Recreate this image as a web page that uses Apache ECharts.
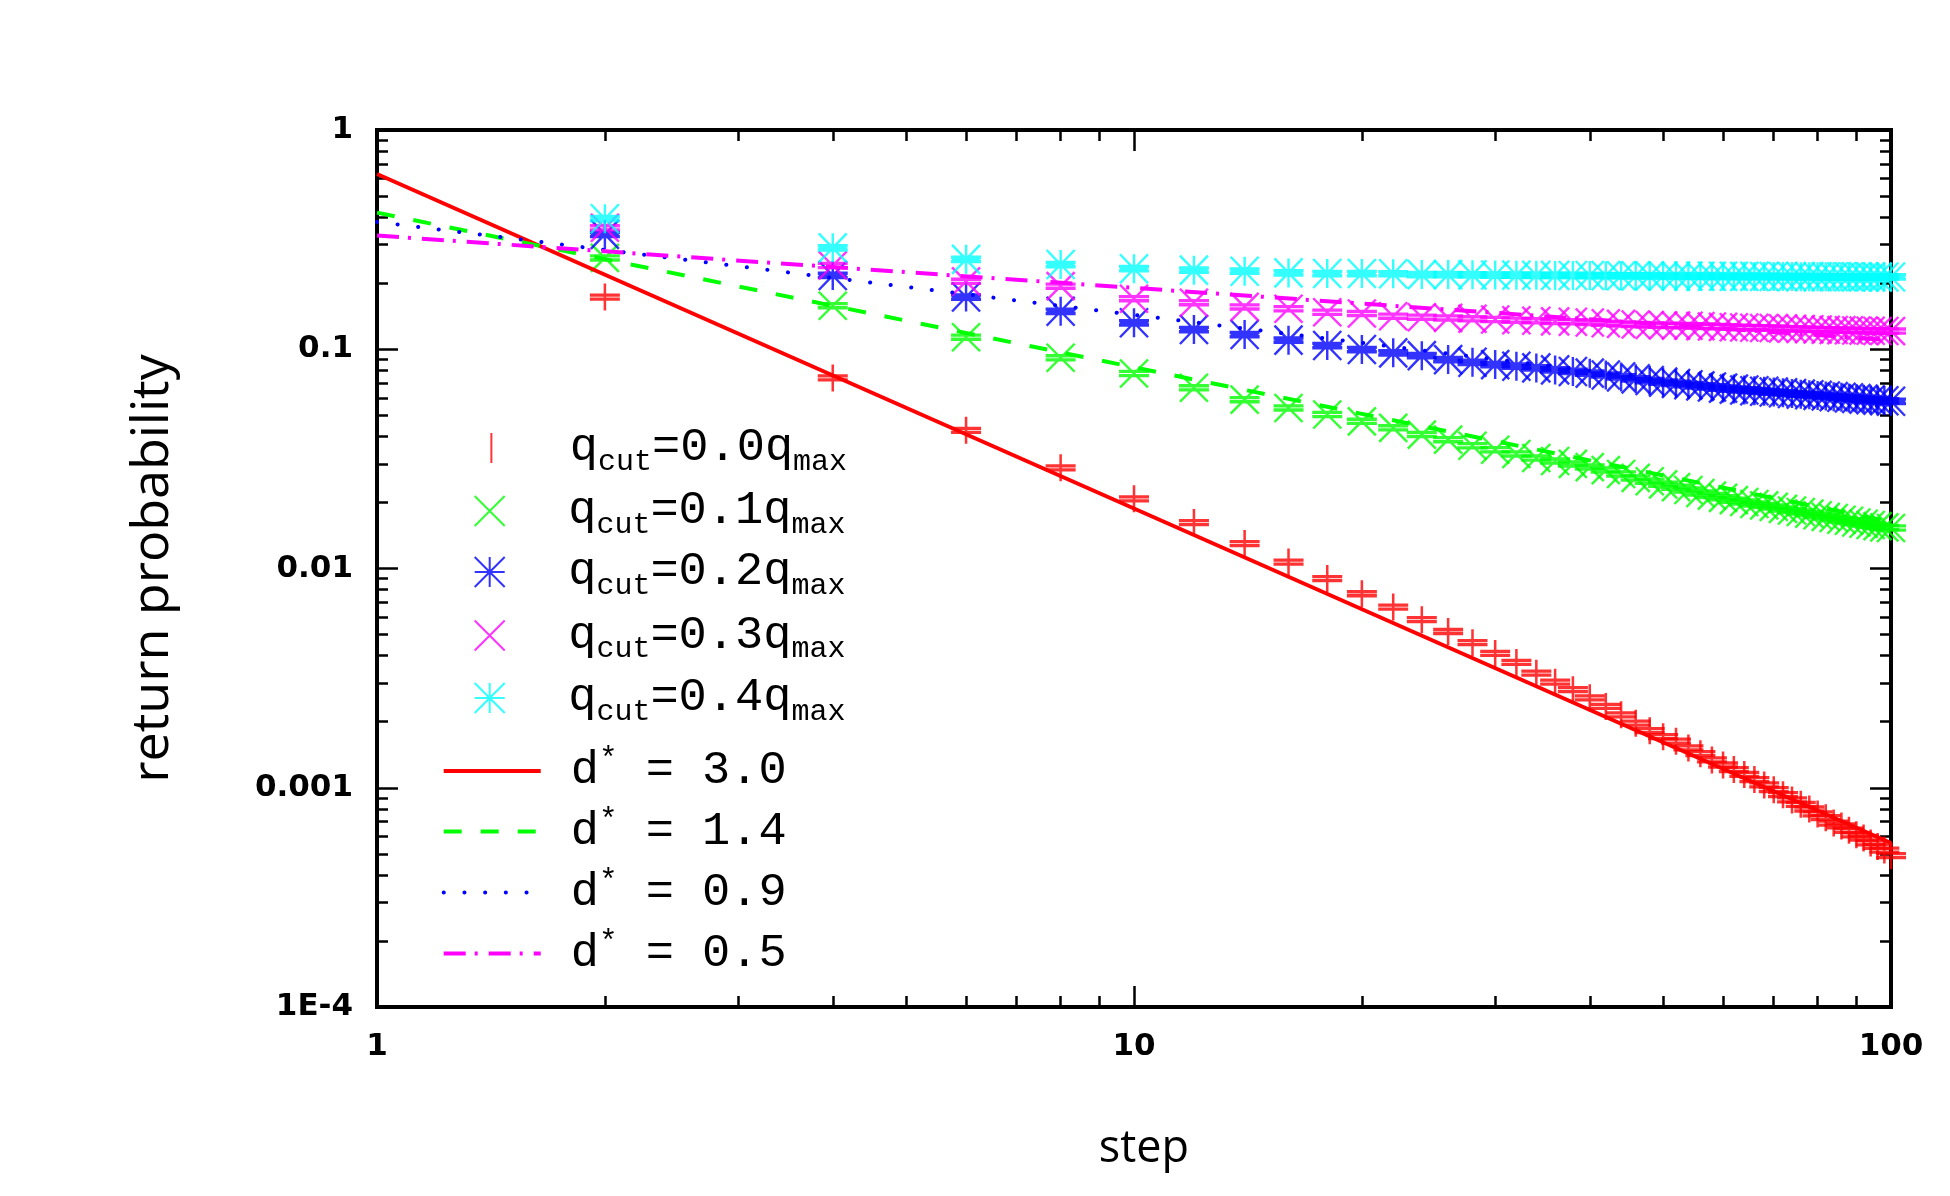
<!DOCTYPE html>
<html>
<head>
<meta charset="utf-8">
<title>return probability</title>
<script src="https://cdn.jsdelivr.net/npm/echarts@6.0.0/dist/echarts.min.js"></script>
<style>
html,body{margin:0;padding:0;background:#fff;}
#container{width:1950px;height:1196px;}
</style>
</head>
<body>
<div id="container"></div>
<script>
// step values (x)
var steps = [2,4,6,8,10,12,14,16,18,20,22,24,26,28,30,32,34,36,38,40,
	42,44,46,48,50,52,54,56,58,60,62,64,66,68,70,72,74,76,78,80,
	82,84,86,88,90,92,94,96,98,100];

// return probability, one array per q_cut
var pCut00 = [0.173,0.074,0.0427,0.0288,0.0208,0.0162,0.0130,0.0107,0.0090,0.00767,
	0.00667,0.00584,0.00516,0.00459,0.0041,0.00373,0.00333,0.00303,0.0028,0.00257,
	0.00235,0.00215,0.00197,0.00182,0.00171,0.00163,0.00152,0.00143,0.00134,0.00127,
	0.00121,0.00115,0.00109,0.00103,0.00098,0.00093,0.00088,0.00084,0.00080,0.00076,
	0.00073,0.00069,0.00067,0.00064,0.00061,0.00059,0.00056,0.00054,0.00052,0.00049];
var pCut01 = [0.261,0.158,0.1135,0.0914,0.0775,0.0667,0.0589,0.054,0.0504,0.0469,
	0.0438,0.0408,0.0387,0.0363,0.0348,0.0333,0.0319,0.0309,0.0300,0.0290,
	0.0281,0.0270,0.0259,0.0250,0.0242,0.0235,0.0228,0.0221,0.0215,0.0210,
	0.0205,0.0201,0.0197,0.0194,0.0191,0.0187,0.0184,0.0181,0.0178,0.0175,
	0.0172,0.0170,0.0167,0.0165,0.0162,0.0160,0.0158,0.0156,0.0154,0.0153];
var pCut02 = [0.334,0.217,0.173,0.149,0.132,0.123,0.1167,0.110,0.104,0.0997,
	0.0963,0.0935,0.0897,0.0872,0.0851,0.0837,0.0822,0.0805,0.0792,0.0778,
	0.0763,0.0748,0.0733,0.0720,0.0708,0.0698,0.0689,0.0681,0.0673,0.0665,
	0.0658,0.0652,0.0647,0.0643,0.0638,0.0633,0.0628,0.0624,0.0620,0.0616,
	0.0612,0.0608,0.0604,0.0600,0.0596,0.0592,0.0588,0.0585,0.0582,0.0579];
var pCut03 = [0.358,0.241,0.204,0.194,0.170,0.163,0.156,0.153,0.1475,0.1455,
	0.1415,0.140,0.139,0.1377,0.1367,0.1357,0.1348,0.1340,0.1335,0.1325,
	0.1315,0.1305,0.1297,0.1290,0.1285,0.1282,0.128,0.1275,0.127,0.1265,
	0.126,0.1257,0.1254,0.1251,0.125,0.1245,0.124,0.1237,0.1234,0.1231,
	0.1228,0.1225,0.1222,0.1220,0.1218,0.1216,0.1214,0.1212,0.1211,0.121];
var pCut04 = [0.394,0.290,0.257,0.2435,0.233,0.2295,0.227,0.223,0.2215,0.2215,
	0.221,0.219,0.219,0.2185,0.218,0.2178,0.2175,0.2172,0.217,0.2168,
	0.2166,0.2164,0.2162,0.216,0.2158,0.2156,0.2155,0.2154,0.2153,0.2152,
	0.2151,0.215,0.2149,0.2148,0.2147,0.2146,0.2145,0.2144,0.2143,0.2142,
	0.2141,0.214,0.214,0.214,0.2139,0.2138,0.2138,0.2137,0.2137,0.2136];

// power law guide lines, end points at step 1 and 100
var fitSteps = [1, 100];
var fitD30 = [0.63, 0.00056];
var fitD14 = [0.42, 0.0163];
var fitD09 = [0.381, 0.054];
var fitD05 = [0.330, 0.110];

// ticks
var xMinorTicks = [2,3,4,5,6,7,8,9,20,30,40,50,60,70,80,90];
var yMinorTicks = [0.0002,0.0003,0.0004,0.0005,0.0006,0.0007,0.0008,0.0009,
	0.002,0.003,0.004,0.005,0.006,0.007,0.008,0.009,
	0.02,0.03,0.04,0.05,0.06,0.07,0.08,0.09,
	0.2,0.3,0.4,0.5,0.6,0.7,0.8,0.9];
var xTickLabels = ['1','10','100'];
var yTickLabels = ['1E-4','0.001','0.01','0.1','1'];

var pointNames = ['q_cut=0.0q_max','q_cut=0.1q_max','q_cut=0.2q_max','q_cut=0.3q_max','q_cut=0.4q_max'];
var lineNames = ['d^* = 3.0','d^* = 1.4','d^* = 0.9','d^* = 0.5'];

var dom = document.getElementById("container");
var myChart = echarts.init(dom, null, {renderer: 'canvas'});

var RED = '#ff0000', GREEN = '#00ff00', BLUE = '#0000ff', MAGENTA = '#ff00ff', CYAN = '#00ffff';

// point marks with the two error bar caps (caps drawn doubled to look heavy)
var caps = 'M0 11L30 11M0 12L30 12M0 15L30 15M0 16L30 16';
var markBar = 'path://M15 0L15 27' + caps;
var markCross = 'path://M1 0L29 27M29 0L1 27' + caps;
var markStar = 'path://M15 0L15 27M1 0L29 27M29 0L1 27M1 13.5L29 13.5' + caps;
// key icons
var keyBar = 'path://M15 0L15 27M0 0M30 0';
var keyCross = 'path://M0 0L28 28M28 0L0 28';
var keyStar = 'path://M14 0L14 28M0 14L28 14M0 0L28 28M28 0L0 28';

function pairs(xs, ys){
	return xs.map(function(x, i){ return [x, ys[i]]; });
}

function pointSeries(name, values, color, symbol, size){
	return {
		name: name,
		type: 'scatter',
		data: pairs(steps, values),
		symbol: symbol,
		symbolSize: size,
		itemStyle: {color: color, borderColor: color, borderWidth: 2.4},
		emphasis: {disabled: true},
		silent: true
	};
}

function fitSeries(name, values, color, dash, cap){
	return {
		name: name,
		type: 'line',
		data: pairs(fitSteps, values),
		symbol: 'none',
		showSymbol: false,
		lineStyle: {color: color, width: 4, type: dash, cap: cap || 'butt'},
		itemStyle: {color: color},
		emphasis: {disabled: true},
		silent: true
	};
}

var tickFont = {fontFamily: 'DejaVu Sans', fontWeight: 'bold', fontSize: 31, color: '#000'};
var titleFont = {fontFamily: 'Open Sans', fontWeight: 'normal', fontSize: 52, color: '#000'};

function mainAxis(pos, range, labels, opt){
	var a = {
		type: 'log', logBase: 10, position: pos, min: range[0], max: range[1],
		axisLine: {show: true, onZero: false, lineStyle: {color: '#000', width: 4, cap: 'square'}},
		axisTick: {show: true, inside: true, length: 21, lineStyle: {color: '#000', width: 2.5}},
		axisLabel: {show: false},
		splitLine: {show: false},
		minorTick: {show: false}
	};
	if (labels) {
		a.axisLabel = Object.assign({show: true, margin: 24, formatter: function(v, i){ return labels[i]; }}, tickFont);
	}
	return Object.assign(a, opt || {});
}

function minorAxis(pos, range, ticks){
	return {
		type: 'log', logBase: 10, position: pos, min: range[0], max: range[1],
		axisLine: {show: false, onZero: false},
		axisTick: {show: true, inside: true, length: 11, customValues: ticks, lineStyle: {color: '#000', width: 2.5}},
		axisLabel: {show: false},
		splitLine: {show: false}
	};
}

var xRange = [1, 100], yRange = [0.0001, 1];

// key, one legend per row
var keyRows = [448, 511, 572, 635.5, 698, 769.5, 830, 891, 952];
var keyIcons = [keyBar, keyCross, keyStar, keyCross, keyStar];
var keyNames = pointNames.concat(lineNames);
var legends = keyNames.map(function(n, i){
	var item = {name: n};
	var isPoint = i < keyIcons.length;
	if (isPoint) {
		item.icon = keyIcons[i];
	} else {
		item.itemStyle = {opacity: 0};
		item.lineStyle = {width: 4};
	}
	return {
		show: true,
		left: isPoint ? 473.7 : 441.7,
		top: keyRows[i] - 25,
		padding: 0,
		itemWidth: 97,
		itemHeight: 30,
		selectedMode: false,
		data: [item],
		formatter: function(name){
			return name.replace(/_(cut|max)/g, '{s|$1}').replace(/\^(\*)/, '{p|$1}');
		},
		textStyle: {
			fontFamily: 'Liberation Mono', fontSize: 47, color: '#000', lineHeight: 50,
			padding: [0, 0, 0, 25],
			rich: {
				s: {fontFamily: 'Liberation Mono', fontSize: 30, color: '#000', padding: [28, 0, 0, 0]},
				p: {fontFamily: 'Liberation Mono', fontSize: 31, color: '#000', padding: [0, 0, 22, 0]}
			}
		}
	};
});

option = {
	backgroundColor: '#ffffff',
	animation: false,
	grid: {left: 377, top: 130, width: 1514, height: 877, containLabel: false},
	legend: legends,
	xAxis: [
		mainAxis('bottom', xRange, xTickLabels, {
			name: 'step', nameLocation: 'middle', nameGap: 120,
			nameTextStyle: Object.assign({}, titleFont, {fontSize: 45, padding: [0, 0, 0, 20]})
		}),
		minorAxis('bottom', xRange, xMinorTicks),
		mainAxis('top', xRange, null),
		minorAxis('top', xRange, xMinorTicks)
	],
	yAxis: [
		mainAxis('left', yRange, yTickLabels, {
			name: 'return probability', nameLocation: 'middle', nameGap: 198,
			nameTextStyle: titleFont
		}),
		minorAxis('left', yRange, yMinorTicks),
		mainAxis('right', yRange, null),
		minorAxis('right', yRange, yMinorTicks)
	],
	series: [
		pointSeries(pointNames[0], pCut00, RED, markBar, [30, 27]),
		pointSeries(pointNames[1], pCut01, GREEN, markCross, [30, 28]),
		pointSeries(pointNames[2], pCut02, BLUE, markStar, [30, 29]),
		pointSeries(pointNames[3], pCut03, MAGENTA, markCross, [30, 28]),
		pointSeries(pointNames[4], pCut04, CYAN, markStar, [30, 29]),
		fitSeries(lineNames[0], fitD30, RED, 'solid'),
		fitSeries(lineNames[1], fitD14, GREEN, [18, 19]),
		fitSeries(lineNames[2], fitD09, BLUE, [0.1, 20.6], 'round'),
		fitSeries(lineNames[3], fitD05, MAGENTA, [22, 9, 3, 11])
	]
};
if (option && typeof option === "object") {
	myChart.setOption(option, true);
}
</script>
</body>
</html>
